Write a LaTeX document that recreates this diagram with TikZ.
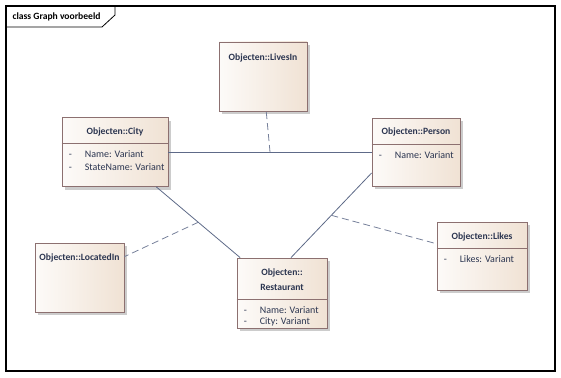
\documentclass[tikz,border=0pt]{standalone}
\usepackage{fontspec}
\setmainfont{Carlito}
\usetikzlibrary{shadows,calc,positioning}

\definecolor{randkleur}{HTML}{8C7070}
\definecolor{vulkleur}{HTML}{F0E2D4}
\definecolor{lijnkleur}{HTML}{5E6A88}
\definecolor{tekstkleur}{HTML}{2B3550}

\begin{document}
\begin{tikzpicture}[x=1pt, y=-1pt, font=\fontsize{10}{12}\selectfont]

        \useasboundingbox (0,0) rectangle (561,377);

        % Stijlen voor klassen, compartimenten en verbindingen
        \tikzset{
            klasse/.style={rectangle, draw=randkleur, line width=0.8pt, inner sep=0pt,
                left color=vulkleur!15, right color=vulkleur,
                drop shadow={shadow xshift=3pt, shadow yshift=-3pt, fill=black!20, opacity=1}},
            kopje/.style={font=\fontsize{9.6}{14.5}\selectfont\bfseries, text=tekstkleur, align=center},
            attr/.style={anchor=west, inner sep=0pt, text=tekstkleur},
            scheiding/.style={draw=randkleur, line width=0.8pt},
            assoc/.style={draw=lijnkleur, line width=0.8pt},
            klassoc/.style={draw=lijnkleur!85, line width=0.8pt, dash pattern=on 7pt off 4pt}
        }

        % Kader van het diagram
        \draw[line width=1.2pt] (6,6) rectangle (555,371);
        \draw[line width=0.8pt] (6,27) -- (102,27) -- (115,15) -- (115,6);
        \node[anchor=west, font=\fontsize{9.6}{12}\selectfont\bfseries] (kader) at (9,16.5) {class Graph voorbeeld};

        % Klassen
        \node[klasse, minimum width=106pt, minimum height=69pt] (city) at (115,152) {};
        \node[klasse, minimum width=88pt, minimum height=69pt] (livesin) at (263,76.5) {};
        \node[klasse, minimum width=88pt, minimum height=68pt] (person) at (416,152) {};
        \node[klasse, minimum width=89pt, minimum height=69pt] (locatedin) at (79.5,277.5) {};
        \node[klasse, minimum width=90pt, minimum height=70pt] (rest) at (282,293) {};
        \node[klasse, minimum width=90pt, minimum height=68pt] (likes) at (482,256) {};

        % Objecten::City
        \node[kopje] (city-kop) at ([yshift=-15pt]city.north) {Objecten::City};
        \draw[scheiding] ([yshift=-26pt]city.north west) -- ([yshift=-26pt]city.north east);
        \node[attr] (city-a1) at ([xshift=7pt, yshift=-37pt]city.north west) {\makebox[16pt][l]{-}Name: Variant};
        \node[attr] (city-a2) at ([xshift=7pt, yshift=-50pt]city.north west) {\makebox[16pt][l]{-}StateName: Variant};

        % Objecten::LivesIn
        \node[kopje] (livesin-kop) at ([yshift=-16pt]livesin.north) {Objecten::LivesIn};

        % Objecten::Person
        \node[kopje] (person-kop) at ([yshift=-14pt]person.north) {Objecten::Person};
        \draw[scheiding] ([yshift=-27pt]person.north west) -- ([yshift=-27pt]person.north east);
        \node[attr] (person-a1) at ([xshift=7pt, yshift=-37pt]person.north west) {\makebox[16pt][l]{-}Name: Variant};

        % Objecten::LocatedIn
        \node[kopje] (locatedin-kop) at ([yshift=-15pt]locatedin.north) {Objecten::LocatedIn};

        % Objecten::Restaurant
        \node[kopje] (rest-kop) at ([yshift=-22pt]rest.north) {Objecten::\\Restaurant};
        \draw[scheiding] ([yshift=-42pt]rest.north west) -- ([yshift=-42pt]rest.north east);
        \node[attr] (rest-a1) at ([xshift=7pt, yshift=-52pt]rest.north west) {\makebox[16pt][l]{-}Name: Variant};
        \node[attr] (rest-a2) at ([xshift=7pt, yshift=-64pt]rest.north west) {\makebox[16pt][l]{-}City: Variant};

        % Objecten::Likes
        \node[kopje] (likes-kop) at ([yshift=-15pt]likes.north) {Objecten::Likes};
        \draw[scheiding] ([yshift=-27pt]likes.north west) -- ([yshift=-27pt]likes.north east);
        \node[attr] (likes-a1) at ([xshift=7pt, yshift=-37pt]likes.north west) {\makebox[16pt][l]{-}Likes: Variant};

        % Associaties
        \draw[assoc] (city) -- coordinate[midway] (m-cp) (person);
        \draw[assoc] (city) -- coordinate[midway] (m-cr) (rest);
        \draw[assoc] ([yshift=-21pt]person.west) -- coordinate[midway] (m-pr) ([xshift=9pt]rest.north);

        % Associatieklassen (gestreept)
        \draw[klassoc] (m-cp) -- (livesin);
        \draw[klassoc] (m-cr) -- (locatedin);
        \draw[klassoc] (m-pr) -- (likes);

\end{tikzpicture}
\end{document}
